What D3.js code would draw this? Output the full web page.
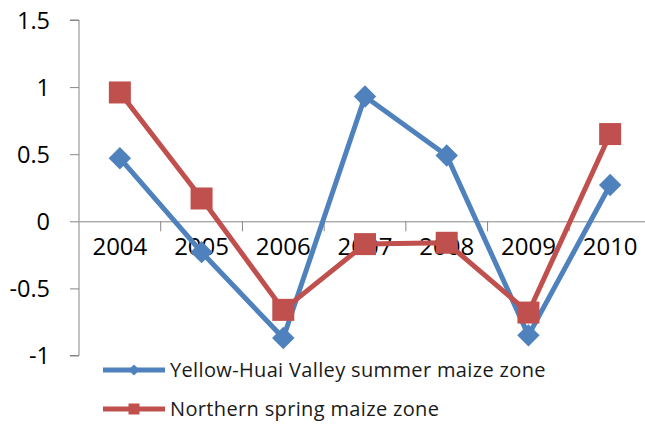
<!DOCTYPE html>
<html>
<head>
<meta charset="utf-8">
<script src="https://cdn.jsdelivr.net/npm/d3@7"></script>
<style>
  body { margin: 0; background: #fff; }
  svg { display: block; font-family: "Open Sans", sans-serif; }
</style>
</head>
<body>
<div class="chart"><svg width="645" height="425"></svg></div>
<script>
var years = ["2004", "2005", "2006", "2007", "2008", "2009", "2010"];
var yellowHuai = [0.47, -0.23, -0.87, 0.93, 0.49, -0.85, 0.27];
var northern = [0.96, 0.17, -0.66, -0.17, -0.16, -0.68, 0.65];
var yTicks = [1.5, 1, 0.5, 0, -0.5, -1];
var seriesNames = ["Yellow-Huai Valley summer maize zone", "Northern spring maize zone"];

var svg = d3.select(".chart").select("svg");

var x = d3.scaleBand().domain(years).range([79, 651]);
var y = d3.scaleLinear().domain([-1, 1.5]).range([355.5, 20]);

// y axis
var yAxis = svg.append("g")
    .attr("transform", "translate(79,0)")
    .call(d3.axisLeft(y).tickValues(yTicks).tickSize(9).tickPadding(20)
        .tickFormat(function(d) { return d; }));
yAxis.selectAll("path, line").attr("stroke", "#868686");
yAxis.select(".domain").attr("d", "M-9,20H0V355.5H-9");
yAxis.selectAll("text").attr("font-size", 23.5).attr("fill", "#000")
    .attr("font-family", "'Open Sans', sans-serif").attr("dy", "0.36em");

// x axis at zero
var xAxis = svg.append("g")
    .attr("transform", "translate(0," + y(0) + ")")
    .call(d3.axisBottom(x).tickSize(0).tickPadding(17));
xAxis.select(".domain").attr("stroke", "#868686");
xAxis.selectAll("text").attr("font-size", 24).attr("fill", "#000")
    .attr("font-family", "'Open Sans', sans-serif");
xAxis.selectAll(".bnd").data(years.slice(1)).enter().append("line")
    .attr("x1", function(d) { return x(d); })
    .attr("x2", function(d) { return x(d); })
    .attr("y1", 0).attr("y2", 10)
    .attr("stroke", "#868686");

var line = d3.line()
    .x(function(d, i) { return x(years[i]) + x.bandwidth() / 2; })
    .y(function(d) { return y(d); });

var blue = "#4F81BD", red = "#C0504D";

svg.append("path").attr("d", line(yellowHuai))
    .attr("fill", "none").attr("stroke", blue).attr("stroke-width", 5)
    .attr("stroke-linejoin", "round");
svg.selectAll(".dia").data(yellowHuai).enter().append("path")
    .attr("d", d3.symbol().type(d3.symbolDiamond2).size(320))
    .attr("transform", function(d, i) {
        return "translate(" + (x(years[i]) + x.bandwidth() / 2) + "," + y(d) + ")";
    })
    .attr("fill", blue);

svg.append("path").attr("d", line(northern))
    .attr("fill", "none").attr("stroke", red).attr("stroke-width", 5)
    .attr("stroke-linejoin", "round");
svg.selectAll(".sq").data(northern).enter().append("rect")
    .attr("x", function(d, i) { return x(years[i]) + x.bandwidth() / 2 - 11; })
    .attr("y", function(d) { return y(d) - 11; })
    .attr("width", 22).attr("height", 22)
    .attr("fill", red);

// legend
var legend = svg.append("g");
var rows = [
    { name: seriesNames[0], color: blue, y: 370 },
    { name: seriesNames[1], color: red, y: 409 }
];
rows.forEach(function(r, i) {
    legend.append("line").attr("x1", 103).attr("x2", 165)
        .attr("y1", r.y).attr("y2", r.y)
        .attr("stroke", r.color).attr("stroke-width", 5);
    if (i == 0) {
        legend.append("path")
            .attr("d", d3.symbol().type(d3.symbolDiamond2).size(80))
            .attr("transform", "translate(134," + r.y + ")")
            .attr("fill", r.color);
    } else {
        legend.append("rect").attr("x", 128.5).attr("y", r.y - 5.5)
            .attr("width", 11).attr("height", 11).attr("fill", r.color);
    }
    legend.append("text").attr("x", 170).attr("y", r.y + 7)
        .attr("font-size", 20).attr("letter-spacing", 0.35).attr("fill", "#1a1a1a")
        .text(r.name);
});
</script>
</body>
</html>
